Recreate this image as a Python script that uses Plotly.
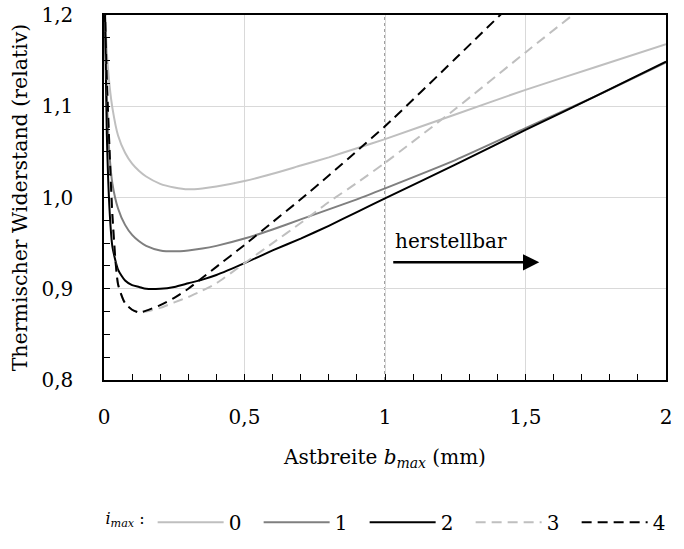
import plotly.graph_objects as go

# ---- data ----
x_vals = [0.003, 0.01, 0.02, 0.03, 0.05, 0.075, 0.1, 0.125, 0.15, 0.2, 0.25, 0.3,
          0.35, 0.4, 0.5, 0.6, 0.7, 0.8, 0.9, 1.0, 1.25, 1.5, 1.75, 2.0]

r_imax0 = [1.21, 1.16, 1.122, 1.098, 1.068, 1.049, 1.037, 1.029, 1.023, 1.015, 1.011, 1.009,
           1.010, 1.012, 1.018, 1.026, 1.035, 1.044, 1.054, 1.064, 1.091, 1.118, 1.143, 1.168]
r_imax1 = [1.21, 1.11, 1.045, 1.015, 0.988, 0.970, 0.959, 0.952, 0.947, 0.942, 0.941, 0.942,
           0.944, 0.947, 0.955, 0.965, 0.976, 0.987, 0.998, 1.010, 1.041, 1.076, 1.111, 1.148]
r_imax2 = [1.21, 1.07, 0.985, 0.946, 0.921, 0.909, 0.904, 0.902, 0.900, 0.900, 0.902, 0.906,
           0.910, 0.915, 0.928, 0.942, 0.955, 0.969, 0.984, 0.999, 1.036, 1.074, 1.111, 1.149]
r_imax3 = [1.21, 1.13, 1.05, 0.98, 0.905, 0.884, 0.877, 0.874, 0.875, 0.879, 0.885, 0.891,
           0.898, 0.906, 0.928, 0.950, 0.972, 0.995, 1.016, 1.038, 1.097, 1.159, 1.220]
r_imax4 = [1.21, 1.13, 1.05, 0.98, 0.905, 0.884, 0.877, 0.874, 0.876, 0.882, 0.890, 0.900,
           0.912, 0.924, 0.948, 0.973, 0.998, 1.024, 1.051, 1.078, 1.152, 1.227]

series_names = ["0", "1", "2", "3", "4"]
series_values = [r_imax0, r_imax1, r_imax2, r_imax3, r_imax4]
series_colors = ["#bfbfbf", "#7f7f7f", "#000000", "#bfbfbf", "#000000"]
series_dash = ["solid", "solid", "solid", "10px,6px", "10px,6px"]

x_ticks = [0, 0.5, 1, 1.5, 2]
y_ticks = [0.8, 0.9, 1.0, 1.1, 1.2]

FONT = "DejaVu Serif"

fig = go.Figure()
for name, vals, col, dash in zip(series_names, series_values, series_colors, series_dash):
    fig.add_trace(go.Scatter(
        x=x_vals[:len(vals)], y=vals, name=name, mode="lines",
        line=dict(color=col, width=2, dash=dash, shape="spline", smoothing=0.6),
    ))

# dotted reference line at b_max = 1 mm
fig.add_vline(x=1, line=dict(color="#808080", width=1.5, dash="dot"), layer="below")

# "herstellbar" label and arrow
fig.add_annotation(x=1.03, y=0.952, xref="x", yref="y", text="herstellbar",
                   showarrow=False, xanchor="left", yanchor="middle",
                   font=dict(family=FONT, size=20, color="black"))
fig.add_annotation(x=1.549, y=0.929, ax=1.024, ay=0.929, xref="x", yref="y",
                   axref="x", ayref="y", text="", showarrow=True,
                   arrowhead=2, arrowsize=1.3, arrowwidth=2.5, arrowcolor="black", standoff=0)

fig.update_layout(
    width=684, height=549,
    margin=dict(l=104, r=18, t=15, b=169, autoexpand=False),
    paper_bgcolor="white", plot_bgcolor="white",
    separators=", ",
    font=dict(family=FONT, size=20, color="black"),
    showlegend=True,
    legend=dict(
        orientation="h", x=-0.001, y=-0.39, xanchor="left", yanchor="middle",
        title=dict(text="<i>i</i><sub><i>max</i></sub> :", side="left",
                   font=dict(family=FONT, size=16)),
        font=dict(family=FONT, size=20), itemwidth=66, entrywidth=25,
        entrywidthmode="pixels", bgcolor="rgba(0,0,0,0)",
    ),
)

fig.update_xaxes(
    range=[0, 2], tickvals=x_ticks, ticks="inside", ticklen=6, tickcolor="black",
    ticklabelstandoff=18, automargin=False,
    showgrid=True, gridcolor="#d9d9d9", gridwidth=1, zeroline=False,
    showline=True, linecolor="black", linewidth=1.5, mirror=True,
    minor=dict(dtick=0.1, tick0=0, ticks="inside", ticklen=6, tickcolor="black", showgrid=False),
    title=dict(text="Astbreite <i>b</i><sub><i>max</i></sub> (mm)", standoff=22,
               font=dict(family=FONT, size=20)),
    tickfont=dict(family=FONT, size=20),
)
fig.update_yaxes(
    range=[0.8, 1.2], tickvals=y_ticks, tickformat=".1f", ticks="inside", ticklen=6,
    tickcolor="black", ticklabelstandoff=25, automargin=False,
    showgrid=True, gridcolor="#d9d9d9", gridwidth=1, zeroline=False,
    showline=True, linecolor="black", linewidth=1.5, mirror=True,
    minor=dict(dtick=0.025, tick0=0.8, ticks="inside", ticklen=6, tickcolor="black", showgrid=False),
    title=dict(text="Thermischer Widerstand (relativ)", standoff=8,
               font=dict(family=FONT, size=20.5)),
    tickfont=dict(family=FONT, size=20),
)

fig.write_html("out.html")
